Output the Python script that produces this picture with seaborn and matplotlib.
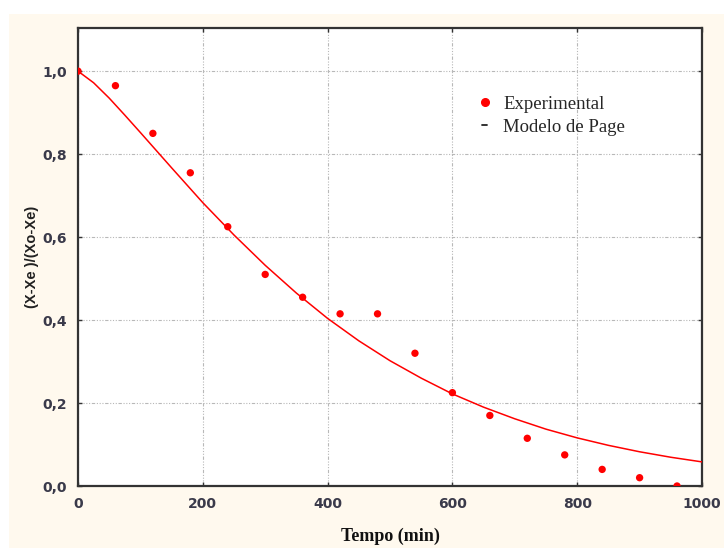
import matplotlib
matplotlib.use("Agg")
import matplotlib.pyplot as plt
import seaborn as sns
import pandas as pd
from matplotlib.patches import Rectangle
from matplotlib.lines import Line2D
from matplotlib.ticker import FuncFormatter

t_exp = [0, 60, 120, 180, 240, 300, 360, 420, 480, 540, 600, 660, 720, 780, 840, 900, 960]
mr_exp = [1.0, 0.965, 0.85, 0.755, 0.625, 0.51, 0.455, 0.415, 0.415, 0.32, 0.225, 0.17,
          0.115, 0.075, 0.04, 0.02, 0.0]

# Page model curve
t_mod = [0, 25, 50, 75, 100, 150, 200, 250, 300, 350, 400, 450, 500, 550, 600, 650, 700, 750,
         800, 850, 900, 950, 1000]
mr_mod = [1.0, 0.972, 0.935, 0.894, 0.852, 0.767, 0.683, 0.605, 0.532, 0.465, 0.404, 0.350,
          0.302, 0.260, 0.222, 0.190, 0.162, 0.137, 0.116, 0.098, 0.0825, 0.0693, 0.0581]

x_ticks = [0, 200, 400, 600, 800, 1000]
y_ticks = [0.0, 0.2, 0.4, 0.6, 0.8, 1.0]

sns.set_theme(style="white")
plt.rcParams['font.family'] = ['DejaVu Sans']

fig = plt.figure(figsize=(7.24, 5.48), dpi=100)
fig.patch.set_facecolor("white")
fig.patches.append(Rectangle((9 / 724, 0), 1 - 9 / 724, 1 - 14 / 548, transform=fig.transFigure,
                             facecolor="#FFF9EE", edgecolor="none", zorder=-10))

ax = fig.add_axes([78 / 724, 1 - 486 / 548, (702 - 78) / 724, (486 - 28) / 548])
ax.set_facecolor("white")

df_exp = pd.DataFrame({"t": t_exp, "mr": mr_exp})
df_mod = pd.DataFrame({"t": t_mod, "mr": mr_mod})

sns.lineplot(data=df_mod, x="t", y="mr", ax=ax, color="#FF0000", linewidth=1.1, zorder=3)
sns.scatterplot(data=df_exp, x="t", y="mr", ax=ax, color="#FF0000", s=28, marker="o",
                edgecolor="none", zorder=4)

ax.set_xlim(0, 1000)
ax.set_ylim(0, 1.104)
ax.set_xticks(x_ticks)
ax.set_yticks(y_ticks)
ax.xaxis.set_major_formatter(FuncFormatter(lambda v, p: f"{int(v)}"))
ax.yaxis.set_major_formatter(FuncFormatter(lambda v, p: f"{v:.1f}".replace(".", ",")))

ax.grid(True, color="#B8B8B8", linewidth=0.8, linestyle=(0, (3, 1.5, 1, 1.5, 1, 1.5, 1, 1.5)))
for s in ax.spines.values():
    s.set_visible(True)
    s.set_color("#333333")
    s.set_linewidth(1.6)

ax.tick_params(axis="both", direction="in", length=3, width=1, color="#333333",
               labelsize=10, labelcolor="#3a3a4a", top=True, right=True, bottom=True, left=True)
ax.tick_params(axis="y", pad=8)
ax.tick_params(axis="x", pad=8)
for lab in ax.get_xticklabels() + ax.get_yticklabels():
    lab.set_fontweight("bold")

ax.set_xlabel("Tempo (min)", fontfamily="Liberation Serif", fontweight="bold", fontsize=13,
              color="#111111", labelpad=12)
ax.set_ylabel("(X-Xe )/(Xo-Xe)", fontfamily="Liberation Sans", fontweight="bold", fontsize=10.5,
              color="#222222", labelpad=2)

handles = [Line2D([0], [0], marker="o", color="#FF0000", linestyle="none", markersize=5.5),
           Line2D([0], [0], color="#222222", linewidth=1.3)]
leg = ax.legend(handles, ["Experimental", "Modelo de Page"], loc="upper left",
                bbox_to_anchor=(0.620, 0.889), frameon=False, handlelength=0.3,
                handletextpad=0.85, labelspacing=0.3, borderpad=0.4,
                prop={"family": "Liberation Serif", "size": 13.5})

fig.savefig("out.png", dpi=100, facecolor=fig.get_facecolor())
